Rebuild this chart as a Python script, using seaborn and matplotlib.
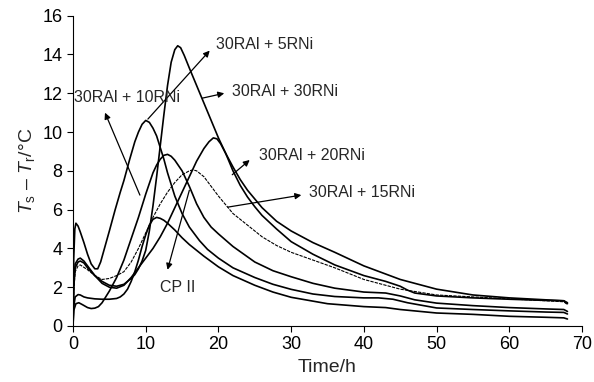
import matplotlib
matplotlib.use("Agg")
import matplotlib.pyplot as plt
import seaborn as sns
import pandas as pd

# ---- data (time in h, Ts - Tr in °C) ----
t_cp = [0, 0.1, 0.3, 0.7, 1, 1.5, 2, 3, 4, 5, 6, 6.5, 7, 7.5, 8, 8.5, 9, 9.5, 10, 10.5, 11, 11.5, 12, 12.5, 13, 14, 15, 16, 18, 20, 22, 25, 27.5, 30, 35, 40, 43, 45, 50, 55, 60, 65, 67.5, 68]
y_cp = [0, 1.0, 1.5, 1.62, 1.6, 1.5, 1.45, 1.4, 1.38, 1.38, 1.42, 1.5, 1.65, 1.9, 2.3, 2.8, 3.4, 4.1, 4.7, 5.2, 5.5, 5.6, 5.55, 5.45, 5.3, 4.95, 4.55, 4.2, 3.6, 3.05, 2.6, 2.1, 1.75, 1.48, 1.15, 1.0, 0.95, 0.85, 0.67, 0.6, 0.5, 0.45, 0.42, 0.36]

t_5 = [0, 0.1, 0.3, 0.7, 1, 1.5, 2, 3, 4, 5, 6, 7, 8, 8.5, 9, 9.5, 10, 10.5, 11, 11.5, 12, 12.5, 13, 13.5, 14, 14.4, 14.8, 15.3, 16, 17, 18, 19, 20, 21, 22, 23, 24, 26, 28, 30, 33, 36, 40, 45, 50, 55, 60, 65, 67.5, 68]
y_5 = [0, 2.0, 3.0, 3.3, 3.35, 3.25, 3.0, 2.6, 2.3, 2.1, 2.05, 2.15, 2.45, 2.65, 2.95, 3.35, 3.9, 4.9, 6.2, 7.7, 9.3, 10.9, 12.4, 13.6, 14.25, 14.45, 14.35, 13.95, 13.3, 12.4, 11.5, 10.6, 9.7, 8.9, 8.2, 7.55, 7.0, 6.1, 5.4, 4.9, 4.3, 3.8, 3.1, 2.4, 1.9, 1.6, 1.45, 1.35, 1.3, 1.2]

t_10 = [0, 0.1, 0.25, 0.4, 0.7, 1, 1.5, 2, 2.5, 3, 3.4, 3.8, 4.4, 5, 5.8, 6.5, 7, 7.8, 8.5, 9, 9.5, 10, 10.5, 11, 11.5, 12, 12.5, 13, 14, 15, 16, 17.4, 18.5, 20, 22, 25, 27.5, 30, 33, 36, 40, 42, 44, 46, 50, 55, 60, 65, 67.5, 68]
y_10 = [0, 3.5, 5.0, 5.3, 5.15, 4.85, 4.3, 3.7, 3.2, 2.95, 2.95, 3.3, 4.1, 4.9, 6.0, 6.9, 7.5, 8.6, 9.5, 10.0, 10.4, 10.6, 10.5, 10.2, 9.8, 9.2, 8.6, 7.9, 6.7, 5.8, 5.1, 4.4, 3.95, 3.5, 3.0, 2.5, 2.15, 1.89, 1.65, 1.52, 1.45, 1.45, 1.38, 1.2, 0.93, 0.85, 0.78, 0.72, 0.7, 0.62]

t_15 = [0, 0.1, 0.3, 0.7, 1, 2, 3, 4, 5, 6, 7, 8, 9, 10, 11, 12, 13, 14, 15, 16, 16.5, 17, 18, 19, 20, 22, 24, 26, 28, 30, 33, 36, 40, 45, 50, 55, 60, 65, 67.5, 68]
y_15 = [0, 1.8, 2.8, 3.1, 3.15, 2.9, 2.6, 2.4, 2.45, 2.6, 2.8, 3.3, 4.0, 4.8, 5.6, 6.3, 6.9, 7.4, 7.8, 8.0, 8.05, 8.0, 7.7, 7.2, 6.7, 5.8, 5.2, 4.6, 4.15, 3.8, 3.4, 3.0, 2.4, 1.9, 1.6, 1.5, 1.4, 1.3, 1.25, 1.1]

t_20 = [0, 0.1, 0.3, 0.7, 1, 1.5, 2, 3, 4, 5, 6, 7, 8, 9, 10, 11, 12, 13, 14, 15, 16, 17, 18, 18.7, 19.3, 19.8, 20.3, 21, 22, 23, 24, 25, 26, 28, 30, 33, 36, 40, 43, 45, 46, 47, 50, 55, 60, 65, 67.5, 68]
y_20 = [0, 2.3, 3.2, 3.45, 3.5, 3.35, 3.1, 2.6, 2.2, 2.0, 1.95, 2.1, 2.5, 3.0, 3.5, 4.0, 4.6, 5.3, 6.1, 6.9, 7.7, 8.5, 9.15, 9.5, 9.7, 9.65, 9.4, 8.9, 8.0, 7.25, 6.65, 6.15, 5.7, 5.0, 4.35, 3.7, 3.15, 2.6, 2.3, 2.05, 1.85, 1.7, 1.55, 1.45, 1.38, 1.32, 1.3, 1.15]

t_30 = [0, 0.1, 0.4, 0.8, 1.3, 2, 2.5, 3, 3.5, 4, 4.5, 5, 6, 7, 8, 9, 10, 11, 11.5, 12, 12.5, 13, 13.5, 14, 15, 16, 17, 18, 19, 20, 22, 25, 27.5, 30, 33, 36, 40, 43, 45, 47, 50, 55, 60, 65, 67.5, 68]
y_30 = [0, 0.8, 1.15, 1.2, 1.1, 0.95, 0.9, 0.92, 1.0, 1.2, 1.5, 1.8, 2.5, 3.4, 4.5, 5.6, 6.8, 7.9, 8.3, 8.6, 8.8, 8.85, 8.75, 8.55, 8.0, 7.2, 6.3, 5.6, 5.1, 4.75, 4.1, 3.3, 2.85, 2.54, 2.2, 1.95, 1.75, 1.7, 1.55, 1.35, 1.18, 1.05, 0.95, 0.88, 0.85, 0.75]

labels = ["CP II", "30RAl + 5RNi", "30RAl + 10RNi", "30RAl + 15RNi", "30RAl + 20RNi", "30RAl + 30RNi"]

series = [(t_cp, y_cp), (t_5, y_5), (t_10, y_10), (t_15, y_15), (t_20, y_20), (t_30, y_30)]
frames = []
for lab, (t, y) in zip(labels, series):
    frames.append(pd.DataFrame({"t": t, "y": y, "mix": lab}))
df = pd.concat(frames, ignore_index=True)

sns.set_style("ticks")
plt.rcParams["font.family"] = ["Liberation Sans", "DejaVu Sans"]
plt.rcParams["mathtext.fontset"] = "custom"
plt.rcParams["mathtext.rm"] = "Liberation Sans"
plt.rcParams["mathtext.it"] = "Liberation Sans:italic"

fig = plt.figure(figsize=(5.94, 3.82), dpi=100)
ax = fig.add_axes([0.1229, 0.1466, 0.8569, 0.8123])

for lab in labels:
    sub = df[df["mix"] == lab]
    dashed = lab == "30RAl + 15RNi"
    sns.lineplot(data=sub, x="t", y="y", ax=ax, color="black",
                 lw=0.8 if dashed else 1.2,
                 linestyle=(0, (3, 1)) if dashed else "-",
                 sort=False, estimator=None, legend=False)

ax.set_xlim(0, 70)
ax.set_ylim(0, 16)
ax.set_xticks(range(0, 71, 10))
ax.set_yticks(range(0, 17, 2))
ax.tick_params(labelsize=13, direction="out", length=4, width=0.8, colors="black")
for s in ["top", "right"]:
    ax.spines[s].set_visible(False)
for s in ["left", "bottom"]:
    ax.spines[s].set_linewidth(0.8)
    ax.spines[s].set_color("black")
ax.set_xlabel("Time/h", fontsize=14)
ax.set_ylabel(r"$T_{\mathrm{s}}$ – $T_{\mathrm{r}}$/°C", fontsize=14)

arrow = dict(arrowstyle="-|>", color="black", lw=0.9, mutation_scale=9, shrinkA=0, shrinkB=0)
fs = 11.5
ax.annotate("", xy=(18.8, 14.2), xytext=(10.3, 10.67), arrowprops=arrow)
ax.text(19.6, 14.5, "30RAl + 5RNi", fontsize=fs, va="center", ha="left")
ax.annotate("", xy=(4.4, 11.0), xytext=(9.2, 6.75), arrowprops=arrow)
ax.text(0.1, 11.8, "30RAl + 10RNi", fontsize=fs, va="center", ha="left")
ax.annotate("", xy=(20.8, 12.0), xytext=(17.8, 11.75), arrowprops=arrow)
ax.text(21.9, 12.1, "30RAl + 30RNi", fontsize=fs, va="center", ha="left")
ax.annotate("", xy=(24.3, 8.56), xytext=(21.9, 7.8), arrowprops=arrow)
ax.text(25.6, 8.8, "30RAl + 20RNi", fontsize=fs, va="center", ha="left")
ax.annotate("", xy=(31.4, 6.75), xytext=(21.3, 6.13), arrowprops=arrow)
ax.text(32.4, 6.9, "30RAl + 15RNi", fontsize=fs, va="center", ha="left")
ax.annotate("", xy=(13.0, 2.9), xytext=(16.0, 7.0), arrowprops=arrow)
ax.text(14.4, 2.0, "CP II", fontsize=fs, va="center", ha="center")

fig.savefig("out.png", dpi=100)
